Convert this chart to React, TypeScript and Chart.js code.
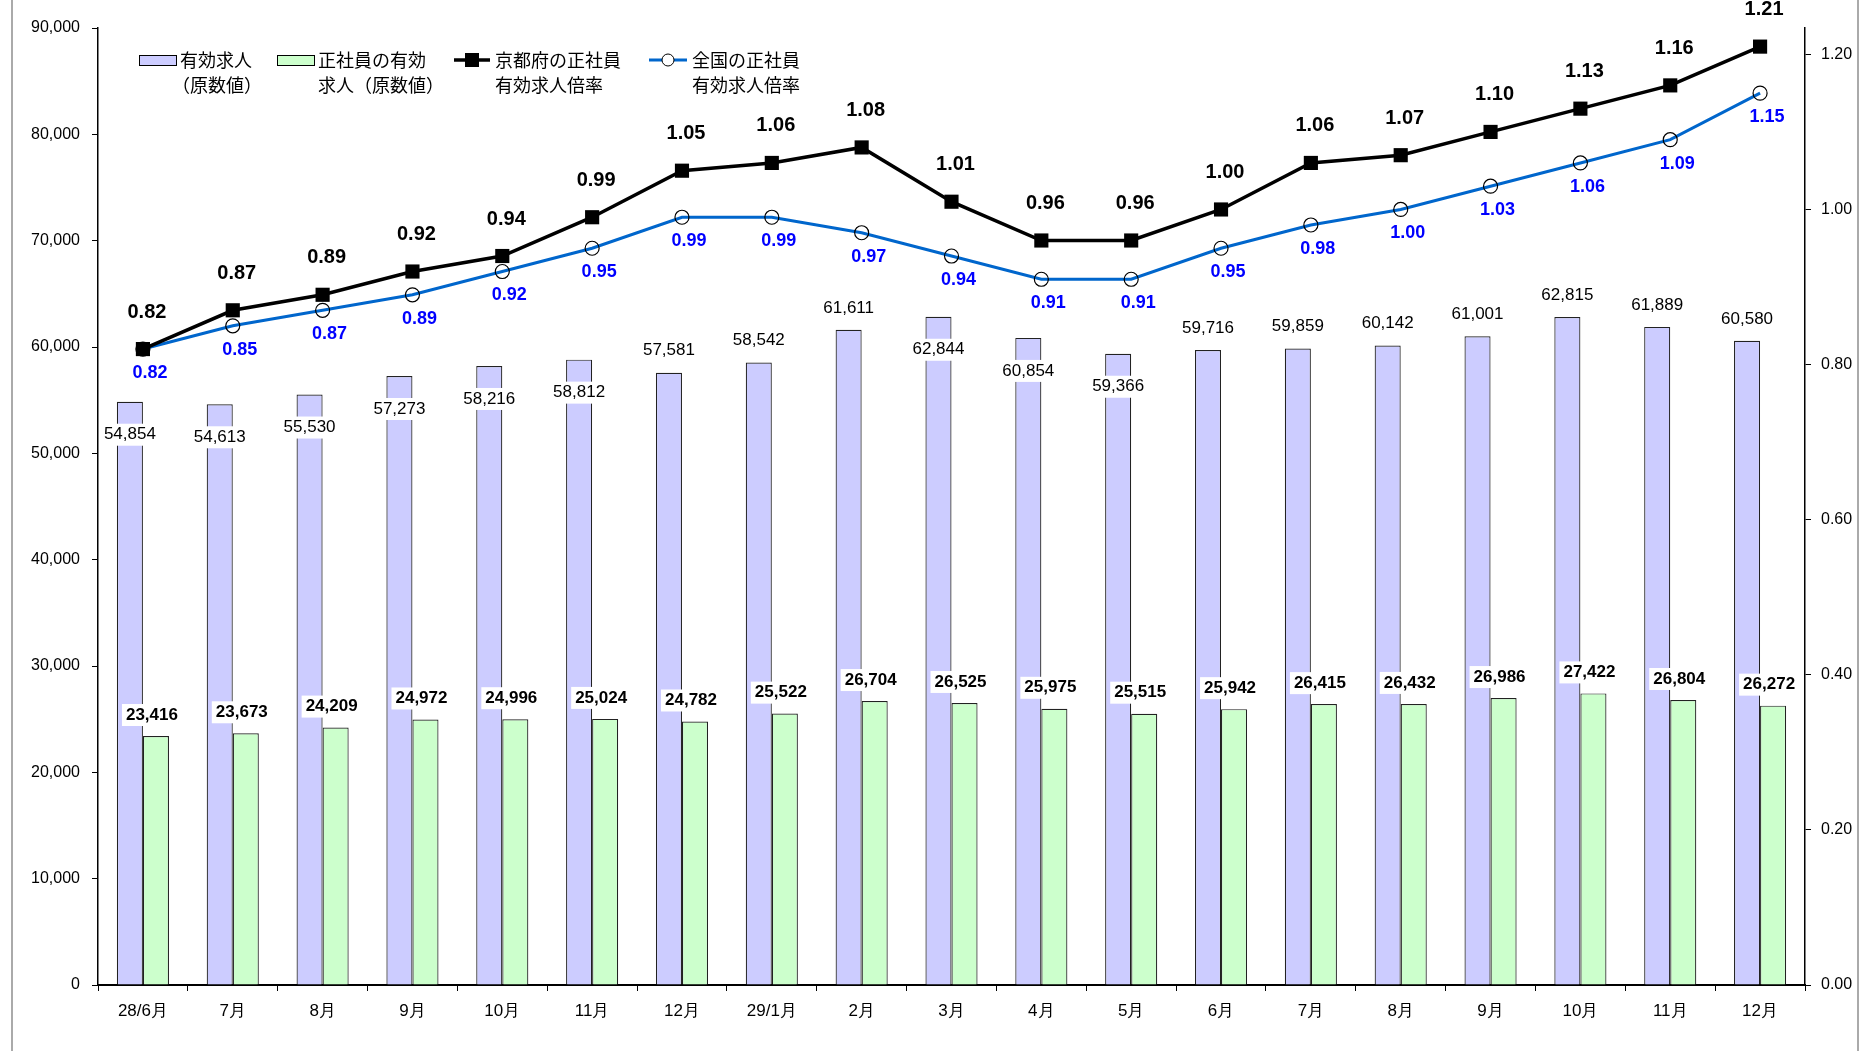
import React, { useEffect, useRef } from "react";
import { Chart, registerables } from "chart.js";

Chart.register(...registerables);

const categories = ["28/6月", "7月", "8月", "9月", "10月", "11月", "12月", "29/1月", "2月", "3月", "4月", "5月", "6月", "7月", "8月", "9月", "10月", "11月", "12月"];
const jobOpenings = [54854, 54613, 55530, 57273, 58216, 58812, 57581, 58542, 61611, 62844, 60854, 59366, 59716, 59859, 60142, 61001, 62815, 61889, 60580];
const regularOpenings = [23416, 23673, 24209, 24972, 24996, 25024, 24782, 25522, 26704, 26525, 25975, 25515, 25942, 26415, 26432, 26986, 27422, 26804, 26272];
const kyotoRatio = [0.82, 0.87, 0.89, 0.92, 0.94, 0.99, 1.05, 1.06, 1.08, 1.01, 0.96, 0.96, 1.0, 1.06, 1.07, 1.1, 1.13, 1.16, 1.21];
const nationalRatio = [0.82, 0.85, 0.87, 0.89, 0.92, 0.95, 0.99, 0.99, 0.97, 0.94, 0.91, 0.91, 0.95, 0.98, 1.0, 1.03, 1.06, 1.09, 1.15];
const leftTicks = [0, 10000, 20000, 30000, 40000, 50000, 60000, 70000, 80000, 90000];
const rightTicks = [0, 0.2, 0.4, 0.6, 0.8, 1.0, 1.2];
const openingsLabelInside = [true, true, true, true, true, true, false, false, false, true, true, true, false, false, false, false, false, false, false];
const legendNames = [
  ["有効求人", "（原数値）"],
  ["正社員の有効", "求人（原数値）"],
  ["京都府の正社員", "有効求人倍率"],
  ["全国の正社員", "有効求人倍率"],
];

const NUM_FONT = '"Liberation Sans", Arial, sans-serif';
const JP_FONT = '"Noto Sans CJK JP", "Liberation Sans", sans-serif';
const PURPLE = "#CCCCFF";
const GREEN = "#CCFFCC";
const BLUE = "#0066CC";

function boxedText(ctx: CanvasRenderingContext2D, text: string, x: number, y: number, font: string, color: string, bg: boolean) {
  ctx.font = font;
  const w = ctx.measureText(text).width;
  if (bg) {
    ctx.fillStyle = "#fff";
    ctx.fillRect(x - w / 2 - 4, y - 11, w + 8, 22);
  }
  ctx.fillStyle = color;
  ctx.textAlign = "center";
  ctx.textBaseline = "middle";
  ctx.fillText(text, x, y);
}

const labelPlugin = {
  id: "valueLabels",
  afterDraw(chart: any) {
    const ctx: CanvasRenderingContext2D = chart.ctx;
    ctx.save();
    const fmt = (v: number) => v.toLocaleString("en-US");
    const mBar1 = chart.getDatasetMeta(0);
    const mBar2 = chart.getDatasetMeta(1);
    const mKyoto = chart.getDatasetMeta(2);
    const mNat = chart.getDatasetMeta(3);
    mBar1.data.forEach((el: any, i: number) => {
      const y = openingsLabelInside[i] ? el.y + 33 : el.y - 22;
      boxedText(ctx, fmt(jobOpenings[i]), el.x, y, `17px ${NUM_FONT}`, "#000", true);
    });
    mBar2.data.forEach((el: any, i: number) => {
      boxedText(ctx, fmt(regularOpenings[i]), el.x - 4, el.y - 21, `bold 17px ${NUM_FONT}`, "#000", true);
    });
    mKyoto.data.forEach((el: any, i: number) => {
      boxedText(ctx, kyotoRatio[i].toFixed(2), el.x + 4, el.y - 37, `bold 20px ${NUM_FONT}`, "#000", false);
    });
    mNat.data.forEach((el: any, i: number) => {
      boxedText(ctx, nationalRatio[i].toFixed(2), el.x + 7, el.y + 24, `bold 18px ${NUM_FONT}`, "#0000FF", false);
    });

    // legend
    const row1 = 60;
    const row2 = 85;
    ctx.font = `18px ${JP_FONT}`;
    ctx.textAlign = "left";
    ctx.textBaseline = "middle";
    // item 1
    ctx.fillStyle = PURPLE;
    ctx.fillRect(139, row1 - 5, 37, 11);
    ctx.strokeStyle = "#000";
    ctx.lineWidth = 1;
    ctx.strokeRect(139.5, row1 - 4.5, 37, 10);
    ctx.fillStyle = "#000";
    ctx.fillText(legendNames[0][0], 180, row1);
    ctx.fillText(legendNames[0][1], 172, row2);
    // item 2
    ctx.fillStyle = GREEN;
    ctx.fillRect(277, row1 - 5, 37, 11);
    ctx.strokeRect(277.5, row1 - 4.5, 37, 10);
    ctx.fillStyle = "#000";
    ctx.fillText(legendNames[1][0], 318, row1);
    ctx.fillText(legendNames[1][1], 318, row2);
    // item 3
    ctx.strokeStyle = "#000";
    ctx.lineWidth = 3.5;
    ctx.beginPath();
    ctx.moveTo(454, row1);
    ctx.lineTo(490, row1);
    ctx.stroke();
    ctx.fillStyle = "#000";
    ctx.fillRect(465, row1 - 7, 14, 14);
    ctx.fillText(legendNames[2][0], 495, row1);
    ctx.fillText(legendNames[2][1], 495, row2);
    // item 4
    ctx.strokeStyle = BLUE;
    ctx.lineWidth = 3;
    ctx.beginPath();
    ctx.moveTo(649, row1);
    ctx.lineTo(687, row1);
    ctx.stroke();
    ctx.fillStyle = "#fff";
    ctx.strokeStyle = "#000";
    ctx.lineWidth = 1;
    ctx.beginPath();
    ctx.arc(668, row1, 6, 0, Math.PI * 2);
    ctx.fill();
    ctx.stroke();
    ctx.fillStyle = "#000";
    ctx.fillText(legendNames[3][0], 692, row1);
    ctx.fillText(legendNames[3][1], 692, row2);
    ctx.restore();
  },
};

export default function App() {
  const ref = useRef<HTMLCanvasElement | null>(null);
  useEffect(() => {
    if (!ref.current) return;
    const chart = new Chart(ref.current, {
      type: "bar",
      data: {
        labels: categories,
        datasets: [
          {
            type: "bar",
            label: "有効求人（原数値）",
            data: jobOpenings,
            backgroundColor: PURPLE,
            borderColor: "#222",
            borderWidth: 1.2,
            yAxisID: "y",
            order: 2,
            barPercentage: 1,
            categoryPercentage: 0.58,
          },
          {
            type: "bar",
            label: "正社員の有効求人（原数値）",
            data: regularOpenings,
            backgroundColor: GREEN,
            borderColor: "#222",
            borderWidth: 1.2,
            yAxisID: "y",
            order: 2,
            barPercentage: 1,
            categoryPercentage: 0.58,
          },
          {
            type: "line",
            label: "京都府の正社員有効求人倍率",
            data: kyotoRatio,
            borderColor: "#000",
            borderWidth: 3.5,
            pointStyle: "rect",
            pointRadius: 10,
            pointBackgroundColor: "#000",
            pointBorderColor: "#000",
            pointBorderWidth: 0,
            yAxisID: "y1",
            order: 0,
            tension: 0,
          },
          {
            type: "line",
            label: "全国の正社員有効求人倍率",
            data: nationalRatio,
            borderColor: BLUE,
            borderWidth: 3,
            pointStyle: "circle",
            pointRadius: 7,
            pointBackgroundColor: "rgba(0,0,0,0)",
            pointBorderColor: "#000",
            pointBorderWidth: 1.2,
            yAxisID: "y1",
            order: 1,
            tension: 0,
          },
        ] as any,
      },
      options: {
        animation: false,
        responsive: true,
        maintainAspectRatio: false,
        layout: { padding: { top: 28, left: 0, right: 0, bottom: 0 } },
        plugins: { legend: { display: false }, tooltip: { enabled: false } },
        scales: {
          x: {
            grid: { display: true, drawOnChartArea: false, drawTicks: true, tickLength: 6, color: "#000", offset: true },
            border: { display: true, color: "#000", width: 2 },
            ticks: { color: "#000", font: { family: NUM_FONT, size: 17 }, padding: 10, maxRotation: 0, autoSkip: false },
            afterFit: (s: any) => { s.height = 66; },
          },
          y: {
            position: "left",
            min: 0,
            max: 90000,
            afterBuildTicks: (s: any) => { s.ticks = leftTicks.map((v) => ({ value: v })); },
            grid: { display: true, drawOnChartArea: false, drawTicks: true, tickLength: 6, color: "#000" },
            border: { display: true, color: "#000", width: 1.5 },
            ticks: { color: "#000", font: { family: NUM_FONT, size: 16 }, padding: 12, callback: (v: any) => Number(v).toLocaleString("en-US") },
            afterFit: (s: any) => { s.width = 98; },
          },
          y1: {
            position: "right",
            min: 0,
            max: 1.234,
            afterBuildTicks: (s: any) => { s.ticks = rightTicks.map((v) => ({ value: v })); },
            grid: { display: true, drawOnChartArea: false, drawTicks: true, tickLength: 6, color: "#000" },
            border: { display: true, color: "#000", width: 1.5 },
            ticks: { color: "#000", font: { family: NUM_FONT, size: 16 }, padding: 10, callback: (v: any) => Number(v).toFixed(2) },
            afterFit: (s: any) => { s.width = 60; },
          },
        },
      } as any,
      plugins: [labelPlugin],
    });
    return () => chart.destroy();
  }, []);

  return (
    <div style={{ position: "absolute", left: 0, top: 0, width: 1865, height: 1051, background: "#fff" }}>
      <div style={{ position: "absolute", left: 11, top: 0, width: 2, height: 1051, background: "#aaa" }} />
      <div style={{ position: "absolute", left: 1857, top: 0, width: 2, height: 1051, background: "#aaa" }} />
      <div style={{ position: "absolute", left: 0, top: 0, width: 1865, height: 1051 }}>
        <canvas ref={ref} />
      </div>
    </div>
  );
}
